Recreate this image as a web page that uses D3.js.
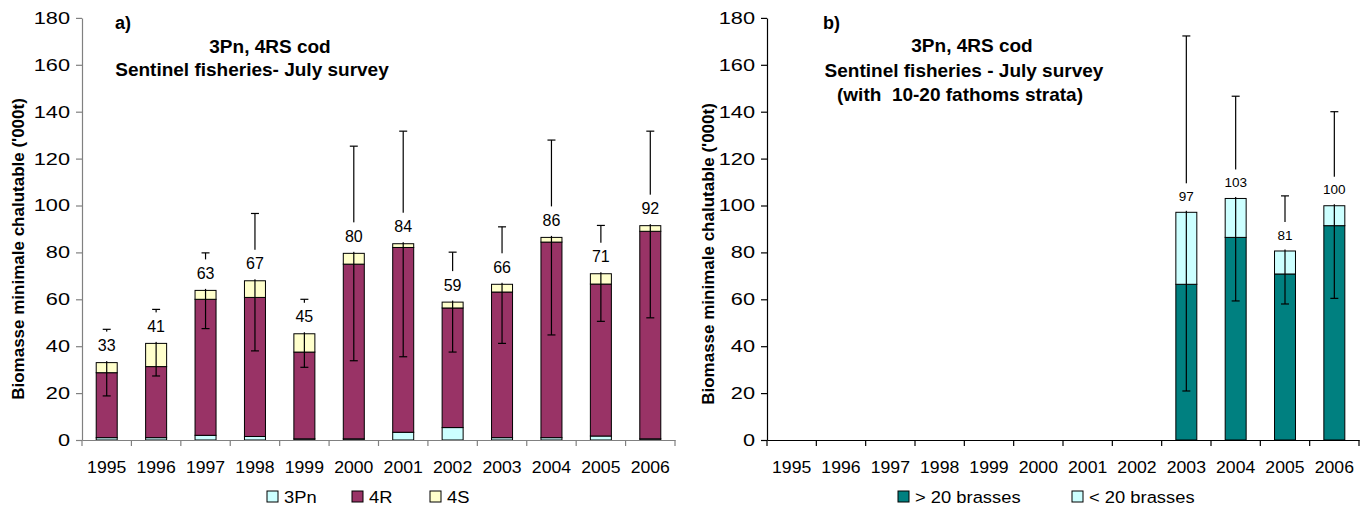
<!DOCTYPE html>
<html>
<head>
<meta charset="utf-8">
<script src="https://cdn.jsdelivr.net/npm/d3@7"></script>
<style>
  body { margin: 0; background: #fff; }
  text { font-family: "Liberation Sans", Arial, sans-serif; }
</style>
</head>
<body>
<svg id="chart" width="1366" height="506"></svg>
<script>
// data
const years = ["1995", "1996", "1997", "1998", "1999", "2000", "2001", "2002", "2003", "2004", "2005", "2006"];
const yTicks = [0, 20, 40, 60, 80, 100, 120, 140, 160, 180];

// a) 3Pn, 4R, 4S
const val3Pn = [1.0, 1.0, 2.0, 1.5, 0.5, 0.5, 3.3, 5.3, 1.0, 1.0, 1.7, 0.5];
const val4R = [27.7, 30.3, 58.0, 59.3, 37.0, 74.5, 78.8, 51.0, 62.1, 83.4, 64.8, 88.5];
const val4S = [4.3, 9.9, 3.8, 7.1, 7.8, 4.6, 1.6, 2.5, 3.3, 2.0, 4.4, 2.4];
const totalA = [33, 41, 63, 67, 45, 80, 84, 59, 66, 86, 71, 92];
const lowA = [18.8, 27.3, 47.5, 38.0, 31.0, 33.8, 35.5, 37.5, 41.2, 44.8, 50.6, 52.1];
const highA = [47.2, 55.7, 79.8, 96.6, 60.0, 125.3, 131.7, 80.1, 90.9, 127.9, 91.5, 131.7];

// b) > 20 brasses, < 20 brasses
const valDeep = [null, null, null, null, null, null, null, null, 66.4, 86.4, 70.8, 91.4];
const valShallow = [null, null, null, null, null, null, null, null, 30.7, 16.6, 9.8, 8.5];
const totalB = [null, null, null, null, null, null, null, null, 97, 103, 81, 100];
const lowB = [null, null, null, null, null, null, null, null, 20.9, 59.3, 58.0, 60.4];
const highB = [null, null, null, null, null, null, null, null, 172.3, 146.6, 104.1, 140.0];

const svg = d3.select("#chart");

// stretches text horizontally, the original figure is a bit wider than tall
function stretch(sel, sx) {
    sel.each(function() {
        const t = d3.select(this);
        const x = +t.attr("x") || 0;
        t.attr("x", x / sx).attr("transform", `scale(${sx},1)`);
    });
}

function drawPanel(opt) {
    const g = svg.append("g");

    const x = d3.scaleBand()
        .domain(years)
        .range([opt.left, opt.right])
        .paddingInner(0.575)
        .paddingOuter(0.2875);
    const y = d3.scaleLinear().domain([0, 180]).range([440, 17.9]);

    // stacked segments
    const rows = years.map((yr, i) => {
        const r = { year: yr, i: i };
        opt.series.forEach(s => r[s.key] = s.values[i] || 0);
        return r;
    }).filter(r => opt.total[r.i] != null);

    const stack = d3.stack().keys(opt.series.map(s => s.key))(rows);
    stack.forEach((layer, k) => {
        g.append("g")
            .selectAll("rect")
            .data(layer.filter(d => d[1] - d[0] > 0))
            .join("rect")
            .attr("x", d => x(d.data.year))
            .attr("width", x.bandwidth())
            .attr("y", d => y(d[1]))
            .attr("height", d => y(d[0]) - y(d[1]))
            .attr("fill", opt.series[k].color)
            .attr("stroke", "#000")
            .attr("stroke-width", 1);
    });

    // error bars
    const errs = rows.map(r => ({ year: r.year, lo: opt.low[r.i], hi: opt.high[r.i], top: d3.sum(opt.series, s => s.values[r.i] || 0), label: opt.total[r.i] }));
    const cx = d => x(d.year) + x.bandwidth() / 2;
    const eb = g.append("g").attr("stroke", "#000").attr("stroke-width", 1.2);
    eb.selectAll("line.stem").data(errs).join("line").attr("class", "stem")
        .attr("x1", cx).attr("x2", cx)
        .attr("y1", d => y(d.lo)).attr("y2", d => y(d.hi));
    eb.selectAll("line.capLo").data(errs).join("line").attr("class", "capLo")
        .attr("x1", d => cx(d) - 4).attr("x2", d => cx(d) + 4)
        .attr("y1", d => y(d.lo)).attr("y2", d => y(d.lo));
    eb.selectAll("line.capHi").data(errs).join("line").attr("class", "capHi")
        .attr("x1", d => cx(d) - 4).attr("x2", d => cx(d) + 4)
        .attr("y1", d => y(d.hi)).attr("y2", d => y(d.hi));

    // value labels, white box hides the error bar above the bar
    g.append("g").selectAll("rect").data(errs).join("rect")
        .attr("x", d => cx(d) - 15)
        .attr("width", 30)
        .attr("y", d => y(d.top) - opt.boxH)
        .attr("height", opt.boxH - 1.5)
        .attr("fill", "#fff");
    g.append("g").selectAll("text").data(errs).join("text")
        .attr("x", cx)
        .attr("y", d => y(d.top) - opt.labelOff)
        .attr("dy", "0.35em")
        .attr("text-anchor", "middle")
        .attr("font-size", opt.labelSize)
        .attr("fill", "#000")
        .text(d => d.label);

    // y axis
    const yAxis = g.append("g")
        .attr("transform", `translate(${opt.left},0)`)
        .call(d3.axisLeft(y).tickValues(yTicks).tickSize(6).tickPadding(6).tickSizeOuter(0));
    yAxis.selectAll("path, line").attr("stroke", opt.axisColor).attr("stroke-width", 1.2);
    yAxis.selectAll("text").attr("font-size", 17).attr("fill", "#000")
        .attr("font-family", "Liberation Sans, Arial, sans-serif");
    stretch(yAxis.selectAll("text"), 1.28);

    // x axis: line, ticks between categories, labels centered
    const xAxis = g.append("g")
        .attr("transform", "translate(0,440)")
        .call(d3.axisBottom(x).tickSize(0).tickPadding(24).tickSizeOuter(0));
    xAxis.select("path").attr("stroke", opt.axisColor).attr("stroke-width", 1.2);
    xAxis.selectAll("text").attr("font-size", 16.5).attr("fill", "#000")
        .attr("dy", 0).attr("y", 33)
        .attr("font-family", "Liberation Sans, Arial, sans-serif");
    stretch(xAxis.selectAll("text"), 1.07);
    const bounds = years.map(yr => x(yr) - (x.step() - x.bandwidth()) / 2).concat([opt.right]);
    xAxis.selectAll("line.sep").data(bounds).join("line").attr("class", "sep")
        .attr("x1", d => d).attr("x2", d => d)
        .attr("y1", 0).attr("y2", 6)
        .attr("stroke", opt.axisColor).attr("stroke-width", 1.2);

    // y axis title
    g.append("text")
        .attr("transform", `translate(${opt.yTitleX},${opt.yTitleY}) rotate(-90)`)
        .attr("text-anchor", "middle")
        .attr("font-size", 17)
        .attr("font-weight", "bold")
        .text("Biomasse minimale chalutable ('000t)");

    // panel letter and title
    g.append("text")
        .attr("x", opt.letterX).attr("y", 29)
        .attr("font-size", 18).attr("font-weight", "bold")
        .text(opt.letter);
    opt.titles.forEach(t => {
        g.append("text")
            .attr("x", t.x).attr("y", t.y)
            .attr("text-anchor", "middle")
            .attr("font-size", 19).attr("font-weight", "bold")
            .style("white-space", "pre")
            .text(t.text);
    });

    // legend
    const leg = g.append("g");
    opt.legend.forEach(l => {
        const s = opt.series.find(s => s.key == l.key);
        leg.append("rect")
            .attr("x", l.x).attr("y", 491)
            .attr("width", 11).attr("height", 11)
            .attr("fill", s.color).attr("stroke", "#000");
        const t = leg.append("text")
            .attr("x", l.x + 17).attr("y", 503)
            .attr("font-size", 17)
            .text(s.name);
        stretch(t, 1.08);
    });
}

drawPanel({
    left: 82, right: 675,
    series: [
        { key: "p3", name: "3Pn", values: val3Pn, color: "#CCFFFF" },
        { key: "r4", name: "4R", values: val4R, color: "#993366" },
        { key: "s4", name: "4S", values: val4S, color: "#FFFFCC" }
    ],
    total: totalA, low: lowA, high: highA,
    boxH: 31, labelOff: 17, labelSize: 16,
    axisColor: "#808080",
    yTitleX: 24, yTitleY: 249,
    letter: "a)", letterX: 115,
    titles: [
        { text: "3Pn, 4RS cod", x: 270, y: 53 },
        { text: "Sentinel fisheries- July survey", x: 252, y: 76 }
    ],
    legend: [{ key: "p3", x: 267 }, { key: "r4", x: 352 }, { key: "s4", x: 430 }]
});

drawPanel({
    left: 767, right: 1359,
    series: [
        { key: "deep", name: "> 20 brasses", values: valDeep, color: "#008080" },
        { key: "shallow", name: "< 20 brasses", values: valShallow, color: "#CCFFFF" }
    ],
    total: totalB, low: lowB, high: highB,
    boxH: 29, labelOff: 16, labelSize: 13.5,
    axisColor: "#000",
    yTitleX: 714, yTitleY: 254,
    letter: "b)", letterX: 823,
    titles: [
        { text: "3Pn, 4RS cod", x: 972, y: 52 },
        { text: "Sentinel fisheries - July survey", x: 964, y: 77 },
        { text: "(with  10-20 fathoms strata)", x: 960, y: 101 }
    ],
    legend: [{ key: "deep", x: 898 }, { key: "shallow", x: 1072 }]
});
</script>
</body>
</html>
